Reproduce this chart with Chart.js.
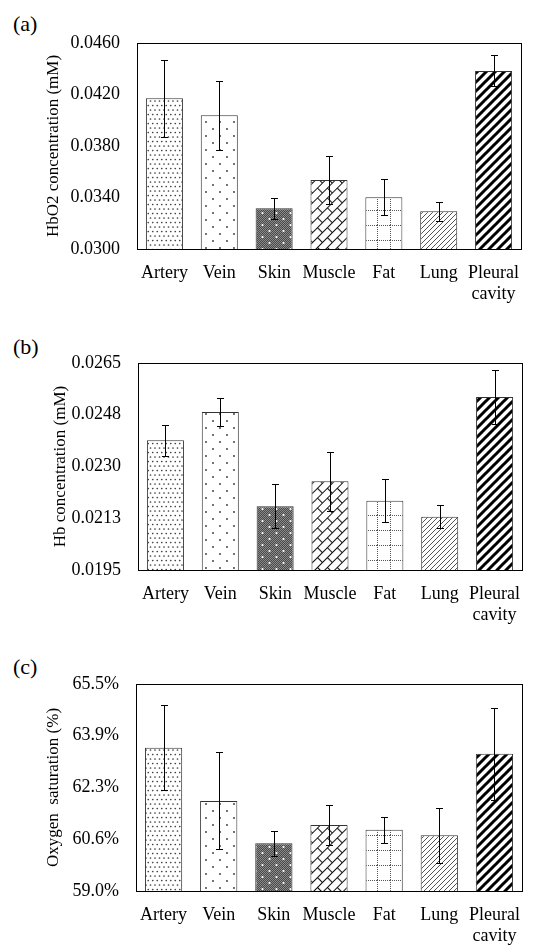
<!DOCTYPE html>
<html>
<head>
<meta charset="utf-8">
<script src="https://cdn.jsdelivr.net/npm/chart.js@4.4.1/dist/chart.umd.min.js"></script>
<style>
  html, body { margin: 0; padding: 0; background: #fff; }
  body { width: 535px; height: 947px; position: relative; overflow: hidden; font-family: "Liberation Serif", serif; }
  .panel { position: absolute; left: 0; width: 535px; }
  .tag { position: absolute; left: 13px; font-size: 22px; line-height: 22px; color: #000; }
</style>
</head>
<body>
<div class="tag" style="top:13px">(a)</div>
<div class="tag" style="top:336px">(b)</div>
<div class="tag" style="top:656px">(c)</div>
<div class="panel" style="top:0;height:310px"><canvas id="chartA"></canvas></div>
<div class="panel" style="top:320px;height:310px"><canvas id="chartB"></canvas></div>
<div class="panel" style="top:640px;height:307px"><canvas id="chartC"></canvas></div>
<script>
const CATEGORIES = [["Artery"], ["Vein"], ["Skin"], ["Muscle"], ["Fat"], ["Lung"], ["Pleural", "cavity"]];

// (a) HbO2 concentration (mM)
const HBO2 = [0.0417, 0.04038, 0.03316, 0.03536, 0.03402, 0.03293, 0.04383];
const HBO2_ERR = [0.003, 0.0027, 0.0008, 0.0019, 0.0014, 0.00075, 0.0012];
const HBO2_TICKS = [0.03, 0.034, 0.038, 0.042, 0.046];
const HBO2_TICK_LABELS = ["0.0300", "0.0340", "0.0380", "0.0420", "0.0460"];

// (b) Hb concentration (mM)
const HB = [0.02389, 0.02484, 0.02166, 0.0225, 0.02184, 0.0213, 0.02535];
const HB_ERR = [0.00053, 0.00048, 0.00075, 0.001, 0.00073, 0.00039, 0.00092];
const HB_TICKS = [0.0195, 0.02125, 0.023, 0.02475, 0.0265];
const HB_TICK_LABELS = ["0.0195", "0.0213", "0.0230", "0.0248", "0.0265"];

// (c) Oxygen saturation (%)
const SO2 = [63.5, 61.83, 60.5, 61.07, 60.92, 60.75, 63.31];
const SO2_ERR = [1.34, 1.52, 0.39, 0.62, 0.41, 0.86, 1.45];
const SO2_TICKS = [59.0, 60.625, 62.25, 63.875, 65.5];
const SO2_TICK_LABELS = ["59.0%", "60.6%", "62.3%", "63.9%", "65.5%"];

const FONT = "'Liberation Serif', 'Times New Roman', serif";

function tile(w, h, draw) {
  const c = document.createElement("canvas");
  c.width = w;
  c.height = h;
  const g = c.getContext("2d");
  g.fillStyle = "#fff";
  g.fillRect(0, 0, w, h);
  draw(g);
  return document.createElement("canvas").getContext("2d").createPattern(c, "repeat");
}

function dot(g, x, y, r, color) {
  g.fillStyle = color;
  g.beginPath();
  g.arc(x, y, r, 0, Math.PI * 2);
  g.fill();
}

function makePatterns() {
  // dense dots
  const artery = tile(9, 9, (g) => {
    dot(g, 2, 2, 0.85, "#444");
    dot(g, 6.5, 2, 0.85, "#444");
    dot(g, 4.25, 6.5, 0.85, "#444");
    dot(g, 8.75, 6.5, 0.85, "#444");
    dot(g, -0.25, 6.5, 0.85, "#444");
  });
  // sparse dots
  const vein = tile(14, 14, (g) => {
    dot(g, 3, 3, 0.9, "#333");
    dot(g, 10, 10, 0.9, "#333");
  });
  // dark grey with white dots
  const skin = tile(14, 12, (g) => {
    for (let y = 0; y < 12; y++) {
      for (let x = 0; x < 14; x++) {
        g.fillStyle = (x + y) % 2 ? "#4a4a4a" : "#8a8a8a";
        g.fillRect(x, y, 1, 1);
      }
    }
    dot(g, 3.5, 3, 1.1, "#fff");
    dot(g, 10.5, 9, 1.1, "#fff");
  });
  // diagonal brick
  const brickCanvas = document.createElement("canvas");
  brickCanvas.width = 14;
  brickCanvas.height = 14;
  const b = brickCanvas.getContext("2d");
  b.fillStyle = "#fff";
  b.fillRect(0, 0, 14, 14);
  b.strokeStyle = "#111";
  b.lineWidth = 1.1;
  b.beginPath();
  b.moveTo(0, 0.5); b.lineTo(14, 0.5);
  b.moveTo(0, 7.5); b.lineTo(14, 7.5);
  b.moveTo(0.5, 0); b.lineTo(0.5, 7.5);
  b.moveTo(7.5, 7.5); b.lineTo(7.5, 14);
  b.stroke();
  const muscle = b.createPattern(brickCanvas, "repeat");
  muscle.setTransform(new DOMMatrix().rotateSelf(-45));
  // dotted grid
  const fat = tile(13, 15, (g) => {
    for (let x = 0; x < 13; x += 2) g.fillStyle = "#555", g.fillRect(x, 0, 1, 1);
    for (let y = 0; y < 15; y += 2) g.fillStyle = "#555", g.fillRect(0, y, 1, 1);
  });
  // thin diagonal lines
  const lung = tile(5, 5, (g) => {
    g.strokeStyle = "#555";
    g.lineWidth = 1;
    g.beginPath();
    g.moveTo(-1, 6); g.lineTo(6, -1);
    g.moveTo(-1, 1); g.lineTo(1, -1);
    g.moveTo(4, 6); g.lineTo(6, 4);
    g.stroke();
  });
  // thick black diagonal stripes
  const pleural = tile(9, 9, (g) => {
    g.strokeStyle = "#000";
    g.lineWidth = 3;
    g.beginPath();
    g.moveTo(-1, 10); g.lineTo(10, -1);
    g.moveTo(-2, 2); g.lineTo(2, -2);
    g.moveTo(7, 11); g.lineTo(11, 7);
    g.stroke();
  });
  return [artery, vein, skin, muscle, fat, lung, pleural];
}

const errorBars = {
  id: "errorBars",
  afterDatasetsDraw(chart) {
    const { ctx } = chart;
    const ds = chart.data.datasets[0];
    const y = chart.scales.y;
    ctx.save();
    ctx.strokeStyle = "#000";
    ctx.lineWidth = 1;
    chart.getDatasetMeta(0).data.forEach((bar, i) => {
      const x = Math.round(bar.x) + 0.5;
      const top = Math.round(y.getPixelForValue(ds.data[i] + ds.errors[i])) + 0.5;
      const bot = Math.round(y.getPixelForValue(ds.data[i] - ds.errors[i])) + 0.5;
      ctx.beginPath();
      ctx.moveTo(x, top); ctx.lineTo(x, bot);
      ctx.moveTo(x - 3.5, top); ctx.lineTo(x + 3.5, top);
      ctx.moveTo(x - 3.5, bot); ctx.lineTo(x + 3.5, bot);
      ctx.stroke();
    });
    ctx.restore();
  },
};

const frame = {
  id: "frame",
  afterDraw(chart) {
    const { ctx, chartArea: a } = chart;
    ctx.save();
    ctx.strokeStyle = "#000";
    ctx.lineWidth = 1;
    ctx.strokeRect(Math.round(a.left) + 0.5, Math.round(a.top) + 0.5,
      Math.round(a.right - a.left), Math.round(a.bottom - a.top));
    ctx.restore();
  },
};

function makeChart(id, cfg) {
  return new Chart(document.getElementById(id), {
    type: "bar",
    data: {
      labels: CATEGORIES,
      datasets: [{
        data: cfg.values,
        errors: cfg.errors,
        backgroundColor: makePatterns(),
        borderColor: "#333",
        borderWidth: 1,
        categoryPercentage: 1,
        barPercentage: 0.675,
      }],
    },
    options: {
      responsive: true,
      maintainAspectRatio: false,
      animation: false,
      layout: { padding: { top: cfg.top, right: cfg.right, left: 0, bottom: 0 } },
      plugins: { legend: { display: false }, tooltip: { enabled: false } },
      scales: {
        x: {
          grid: { display: false },
          border: { display: true, color: "#000", width: 1 },
          ticks: { color: "#000", font: { family: FONT, size: 18, lineHeight: 1.2 }, padding: 5, maxRotation: 0, autoSkip: false },
          afterFit: (s) => { s.height = cfg.xHeight; },
        },
        y: {
          min: cfg.ticks[0],
          max: cfg.ticks[cfg.ticks.length - 1],
          grid: { display: false, drawTicks: false },
          border: { display: true, color: "#000" },
          afterBuildTicks: (s) => { s.ticks = cfg.ticks.map((v) => ({ value: v })); },
          ticks: {
            color: "#000",
            font: { family: FONT, size: 18 },
            padding: 17,
            callback: (v, i) => cfg.tickLabels[i],
          },
          title: {
            display: true,
            text: cfg.title,
            color: "#000",
            font: { family: FONT, size: 17 },
            padding: { top: cfg.titlePad, bottom: 0 },
          },
          afterFit: (s) => { s.width = cfg.yWidth; },
        },
      },
    },
    plugins: [errorBars, frame],
  });
}

makeChart("chartA", {
  values: HBO2, errors: HBO2_ERR, ticks: HBO2_TICKS, tickLabels: HBO2_TICK_LABELS,
  title: "HbO2 concentration (mM)", top: 43, right: 14, xHeight: 61, yWidth: 137, titlePad: 43,
});
makeChart("chartB", {
  values: HB, errors: HB_ERR, ticks: HB_TICKS, tickLabels: HB_TICK_LABELS,
  title: "Hb concentration (mM)", top: 43, right: 13, xHeight: 60, yWidth: 138, titlePad: 50,
});
makeChart("chartC", {
  values: SO2, errors: SO2_ERR, ticks: SO2_TICKS, tickLabels: SO2_TICK_LABELS,
  title: "Oxygen  saturation (%)", top: 44, right: 13, xHeight: 56, yWidth: 136, titlePad: 43,
});
</script>
</body>
</html>
